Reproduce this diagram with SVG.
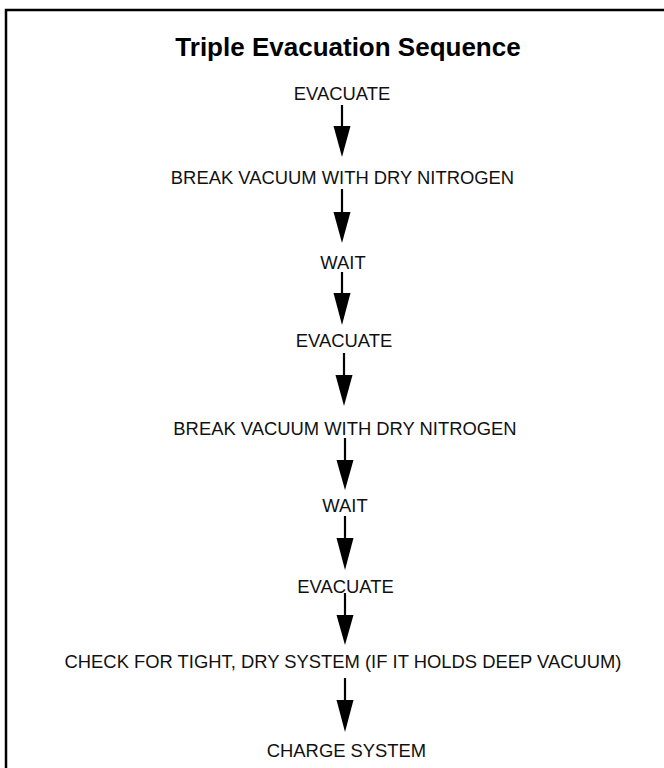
<svg xmlns="http://www.w3.org/2000/svg" width="664" height="768" viewBox="0 0 664 768">
  <style>
    .t { font-family: "Liberation Sans", Arial, Helvetica, sans-serif; font-size: 18.4px; fill: #111; text-anchor: middle; }
    .title { font-family: "Liberation Sans", Arial, Helvetica, sans-serif; font-size: 26px; font-weight: bold; fill: #000; text-anchor: middle; }
    .c line { stroke: #000; stroke-width: 2.2; }
    .c polygon { fill: #000; }
  </style>
  <rect x="6" y="10" width="700" height="800" fill="#fff" stroke="#000" stroke-width="2.5"/>
  <text class="title" x="348" y="56">Triple Evacuation Sequence</text>
  <g id="n1"><text class="t" x="342" y="100">EVACUATE</text></g>
  <g id="n2"><text class="t" x="342.5" y="184">BREAK VACUUM WITH DRY NITROGEN</text></g>
  <g id="n3"><text class="t" x="343" y="269">WAIT</text></g>
  <g id="n4"><text class="t" x="344" y="346.5">EVACUATE</text></g>
  <g id="n5"><text class="t" x="345" y="435">BREAK VACUUM WITH DRY NITROGEN</text></g>
  <g id="n6"><text class="t" x="345" y="511.5">WAIT</text></g>
  <g id="n7"><text class="t" x="345.5" y="593">EVACUATE</text></g>
  <g id="n8"><text class="t" x="343" y="668">CHECK FOR TIGHT, DRY SYSTEM (IF IT HOLDS DEEP VACUUM)</text></g>
  <g id="n9"><text class="t" x="346.5" y="756.5">CHARGE SYSTEM</text></g>
  <g id="connectors" class="c">
    <line x1="342" y1="105" x2="342" y2="128"/><polygon points="333.5,126 350.5,126 342,157"/>
    <line x1="342" y1="189" x2="342" y2="214"/><polygon points="333.5,212 350.5,212 342,243"/>
    <line x1="342" y1="272" x2="342" y2="295"/><polygon points="333.5,293 350.5,293 342,325"/>
    <line x1="344" y1="353" x2="344" y2="377"/><polygon points="335.5,375 352.5,375 344,406"/>
    <line x1="345" y1="438" x2="345" y2="462"/><polygon points="336.5,460 353.5,460 345,490"/>
    <line x1="345" y1="516" x2="345" y2="540"/><polygon points="336.5,538 353.5,538 345,570"/>
    <line x1="345" y1="593" x2="345" y2="617"/><polygon points="336.5,615 353.5,615 345,645"/>
    <line x1="345" y1="678" x2="345" y2="702"/><polygon points="336.5,700 353.5,700 345,732"/>
  </g>
</svg>
